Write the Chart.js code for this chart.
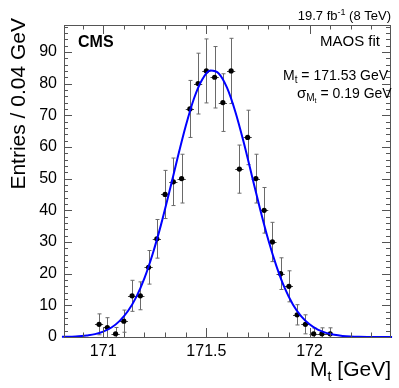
<!DOCTYPE html>
<html>
<head>
<meta charset="utf-8">
<script src="https://cdn.jsdelivr.net/npm/chart.js@4.4.0/dist/chart.umd.min.js"></script>
<style>
  html, body { margin: 0; padding: 0; background: #fff; }
</style>
</head>
<body>
<canvas id="c" width="399" height="388"></canvas>
<script>
// histogram: bin centres (GeV), entries and vertical errors
const binCentres = [170.98, 171.02, 171.06, 171.10, 171.14, 171.18, 171.22, 171.26, 171.30, 171.34,
                    171.38, 171.42, 171.46, 171.50, 171.54, 171.58, 171.62, 171.66, 171.70, 171.74,
                    171.78, 171.82, 171.86, 171.90, 171.94, 171.98, 172.02, 172.06, 172.10];
const entries = [4, 3, 1, 5, 13, 13, 22, 31, 45, 49,
                 50, 72, 80, 84, 82, 74, 84, 53, 63, 50,
                 40, 30, 20, 16, 7, 4, 1, 1, 1];
const errors = [3.3, 3.1, 2.0, 3.5, 4.9, 4.4, 5.3, 6.1, 7.6, 7.5,
                7.7, 9.0, 9.6, 10.1, 9.7, 9.1, 10.3, 7.6, 8.6, 7.7,
                7.2, 6.2, 5.0, 4.9, 3.2, 3.0, 1.8, 1.9, 1.9];
const binHalfWidth = 0.02;

// fit curve (blue)
const fitX = [170.80, 170.84, 170.88, 170.92, 170.96, 171.00, 171.04, 171.08, 171.12, 171.16,
              171.20, 171.24, 171.28, 171.32, 171.36, 171.40, 171.44, 171.48, 171.52, 171.56,
              171.60, 171.64, 171.68, 171.72, 171.76, 171.80, 171.84, 171.88, 171.92, 171.96,
              172.00, 172.04, 172.08, 172.12, 172.16, 172.20, 172.24, 172.28, 172.32, 172.36, 172.40];
const fitY = [0.05, 0.1, 0.2, 0.5, 0.9, 1.7, 3.0, 5.1, 8.2, 12.6,
              18.6, 26.3, 35.4, 45.7, 56.4, 66.6, 75.3, 81.3, 84.1, 83.2,
              78.7, 71.2, 61.7, 51.1, 40.5, 30.7, 22.3, 15.4, 10.2, 6.5,
              4.0, 2.3, 1.3, 0.7, 0.35, 0.17, 0.08, 0.03, 0.01, 0.01, 0.0];

const xTicks = [171, 171.5, 172];
const yTicks = [0, 10, 20, 30, 40, 50, 60, 70, 80, 90];
const xMinorStep = 0.1;
const yMinorStep = 2;

const FONT = "'Liberation Sans', Arial, Helvetica, sans-serif";
const frameColor = '#555';

// draw a row of text pieces (for sub/superscripts)
function drawRuns(ctx, runs, x, y, align) {
  let total = 0;
  runs.forEach(r => {
    ctx.font = (r.bold ? 'bold ' : '') + r.size + 'px ' + FONT;
    r.w = ctx.measureText(r.t).width;
    total += r.w;
  });
  let cx = align === 'right' ? x - total : x;
  ctx.textAlign = 'left';
  ctx.textBaseline = 'alphabetic';
  runs.forEach(r => {
    ctx.font = (r.bold ? 'bold ' : '') + r.size + 'px ' + FONT;
    ctx.fillText(r.t, cx, y + (r.dy || 0));
    cx += r.w;
  });
}

const rootStyle = {
  id: 'rootStyle',
  beforeDatasetsDraw(chart) {
    const ctx = chart.ctx;
    const xs = chart.scales.x, ys = chart.scales.y;
    ctx.save();
    // vertical error bars
    ctx.strokeStyle = '#6a6a6a';
    ctx.lineWidth = 1;
    binCentres.forEach((c, i) => {
      const px = Math.round(xs.getPixelForValue(c)) + 0.5;
      const top = ys.getPixelForValue(entries[i] + errors[i]);
      const bot = ys.getPixelForValue(Math.max(entries[i] - errors[i], 0));
      ctx.beginPath();
      ctx.moveTo(px, top); ctx.lineTo(px, bot);
      ctx.moveTo(px - 2, top); ctx.lineTo(px + 2, top);
      if (entries[i] - errors[i] > 0) { ctx.moveTo(px - 2, bot); ctx.lineTo(px + 2, bot); }
      ctx.stroke();
    });
    // horizontal bars (bin width)
    ctx.strokeStyle = '#444';
    binCentres.forEach((c, i) => {
      const py = Math.round(ys.getPixelForValue(entries[i])) + 0.5;
      ctx.beginPath();
      ctx.moveTo(xs.getPixelForValue(c - binHalfWidth), py);
      ctx.lineTo(xs.getPixelForValue(c + binHalfWidth), py);
      ctx.stroke();
    });
    ctx.restore();
  },
  afterDraw(chart) {
    const ctx = chart.ctx;
    const a = chart.chartArea;
    const xs = chart.scales.x, ys = chart.scales.y;
    ctx.save();
    // frame
    ctx.strokeStyle = frameColor;
    ctx.lineWidth = 1;
    ctx.strokeRect(Math.round(a.left) + 0.5, Math.round(a.top) + 0.5,
                   Math.round(a.right - a.left), Math.round(a.bottom - a.top));
    // inward ticks on all four sides
    ctx.beginPath();
    for (let v = Math.ceil(xs.min / xMinorStep) * xMinorStep; v <= xs.max + 1e-9; v += xMinorStep) {
      const major = xTicks.some(t => Math.abs(t - v) < 1e-6);
      const len = major ? 9 : 4.5;
      const px = Math.round(xs.getPixelForValue(v)) + 0.5;
      ctx.moveTo(px, a.bottom); ctx.lineTo(px, a.bottom - len);
      ctx.moveTo(px, a.top); ctx.lineTo(px, a.top + len);
    }
    for (let v = 0; v <= ys.max + 1e-9; v += yMinorStep) {
      const major = v % 10 === 0;
      const len = major ? 8 : 4;
      const py = Math.round(ys.getPixelForValue(v)) + 0.5;
      ctx.moveTo(a.left, py); ctx.lineTo(a.left + len, py);
      ctx.moveTo(a.right, py); ctx.lineTo(a.right - len, py);
    }
    ctx.stroke();

    ctx.fillStyle = '#000';
    // top labels
    drawRuns(ctx, [{t: '19.7 fb', size: 13}, {t: '-1', size: 9, dy: -5}, {t: ' (8 TeV)', size: 13}],
             a.right + 1, 19.5, 'right');
    drawRuns(ctx, [{t: 'CMS', size: 16, bold: true}], 78, 46.5, 'left');
    drawRuns(ctx, [{t: 'MAOS fit', size: 15}], a.right - 10, 46, 'right');
    drawRuns(ctx, [{t: 'M', size: 14}, {t: 't', size: 10, dy: 3}, {t: ' = 171.53 GeV', size: 14}],
             283, 80, 'left');
    drawRuns(ctx, [{t: 'σ', size: 15}, {t: 'M', size: 10, dy: 3}, {t: 't', size: 7, dy: 5},
                   {t: ' = 0.19 GeV', size: 14}], 297, 98, 'left');
    // axis titles
    drawRuns(ctx, [{t: 'M', size: 21}, {t: 't', size: 14, dy: 5}, {t: ' [GeV]', size: 21}],
             a.right + 1, 376, 'right');
    ctx.translate(25, 18);
    ctx.rotate(-Math.PI / 2);
    ctx.font = '21px ' + FONT;
    ctx.textAlign = 'right';
    ctx.textBaseline = 'alphabetic';
    ctx.fillText('Entries / 0.04 GeV', 0, 0);
    ctx.restore();
  }
};

new Chart(document.getElementById('c'), {
  type: 'scatter',
  data: {
    datasets: [
      { // fit curve, on top
        type: 'line',
        data: fitX.map((x, i) => ({x: x, y: fitY[i]})),
        borderColor: '#0000ff',
        borderWidth: 2,
        pointRadius: 0,
        cubicInterpolationMode: 'monotone',
        fill: false,
        clip: 3
      },
      { // data points
        data: binCentres.map((x, i) => ({x: x, y: entries[i]})),
        backgroundColor: '#000',
        borderColor: '#000',
        pointRadius: 2.6,
        pointBorderWidth: 0
      }
    ]
  },
  options: {
    responsive: false,
    animation: false,
    events: [],
    layout: { padding: { top: 25, right: 9, left: 0, bottom: 0 } },
    plugins: { legend: { display: false }, tooltip: { enabled: false } },
    scales: {
      x: {
        type: 'linear',
        min: 170.81,
        max: 172.39,
        grid: { display: false, drawTicks: false },
        border: { display: false },
        afterBuildTicks: s => { s.ticks = xTicks.map(v => ({value: v})); },
        afterFit: s => { s.height = 51; },
        ticks: {
          color: '#000',
          padding: 5,
          maxRotation: 0,
          font: { family: FONT, size: 16 },
          callback: v => String(v)
        }
      },
      y: {
        min: 0,
        max: 98.5,
        grid: { display: false, drawTicks: false },
        border: { display: false },
        afterBuildTicks: s => { s.ticks = yTicks.map(v => ({value: v})); },
        afterFit: s => { s.width = 64; },
        ticks: {
          color: '#000',
          padding: 7,
          font: { family: FONT, size: 16 },
          callback: v => String(v)
        }
      }
    }
  },
  plugins: [rootStyle]
});
</script>
</body>
</html>
